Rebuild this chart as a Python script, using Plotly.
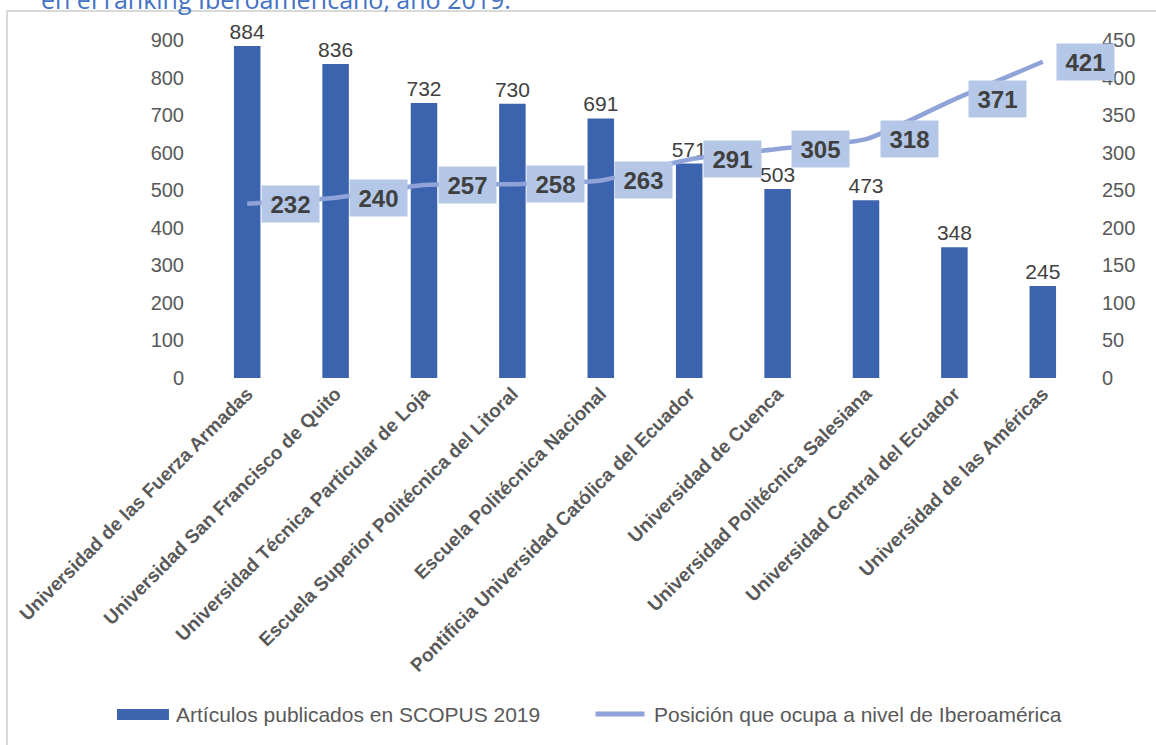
import plotly.graph_objects as go

universidades = [
    "Universidad de las Fuerza Armadas",
    "Universidad San Francisco de Quito",
    "Universidad Técnica Particular de Loja",
    "Escuela Superior Politécnica del Litoral",
    "Escuela Politécnica Nacional",
    "Pontificia Universidad Católica del Ecuador",
    "Universidad de Cuenca",
    "Universidad Politécnica Salesiana",
    "Universidad Central del Ecuador",
    "Universidad de las Américas",
]
articulos = [884, 836, 732, 730, 691, 571, 503, 473, 348, 245]
posicion = [232, 240, 257, 258, 263, 291, 305, 318, 371, 421]

left_ticks = [0, 100, 200, 300, 400, 500, 600, 700, 800, 900]
right_ticks = [0, 50, 100, 150, 200, 250, 300, 350, 400, 450]

serie_barras = "Artículos publicados en SCOPUS 2019"
serie_linea = "Posición que ocupa a nivel de Iberoamérica"
titulo_cortado = "en el ranking Iberoamericano, año 2019."

FONT = "Liberation Sans, Arial, sans-serif"
GREY = "#595959"
DARK = "#404040"
BAR_C = "#3c64ae"
LINE_C = "#8fa3d8"

fig = go.Figure()
fig.add_trace(go.Bar(
    x=universidades, y=articulos, name=serie_barras,
    marker=dict(color=BAR_C, line=dict(width=0)), width=0.3,
    text=[str(v) for v in articulos], textposition="outside", constraintext="none",
    textfont=dict(size=21, color=DARK, family=FONT), cliponaxis=False,
))
fig.add_trace(go.Scatter(
    x=universidades, y=posicion, yaxis="y2", mode="lines", name=serie_linea,
    line=dict(color=LINE_C, width=4.5, shape="spline", smoothing=0.6),
    cliponaxis=False,
))

for u, p in zip(universidades, posicion):
    fig.add_annotation(
        x=u, y=p, yref="y2", text=f"<b>{p}</b>", showarrow=False,
        xshift=43, bgcolor="#b4c7e7", borderpad=5, width=47, height=26,
        font=dict(size=24, color=DARK, family=FONT),
    )

# partially visible caption above the chart frame
fig.add_annotation(
    xref="paper", yref="paper", x=-0.186, y=1.122, xanchor="left", yanchor="middle",
    text=titulo_cortado, showarrow=False,
    font=dict(size=25, color="#4472c4", family="Open Sans, sans-serif"),
)

# chart frame
fig.add_shape(
    type="rect", xref="paper", yref="paper",
    x0=-0.2217, x1=1.1, y0=-1.2, y1=1.0858,
    line=dict(color="#d9d9d9", width=2), fillcolor="rgba(0,0,0,0)", layer="below",
)

# custom legend
fig.add_shape(type="rect", xref="paper", yref="paper",
              x0=-0.0973, x1=-0.0385, y0=-1.0118, y1=-0.9793,
              fillcolor=BAR_C, line=dict(width=0))
fig.add_annotation(xref="paper", yref="paper", x=-0.0328, y=-0.9941,
                   xanchor="left", yanchor="middle", showarrow=False,
                   text=serie_barras, font=dict(size=21, color=GREY, family=FONT))
fig.add_shape(type="line", xref="paper", yref="paper",
              x0=0.4440, x1=0.4995, y0=-0.9941, y1=-0.9941,
              line=dict(color=LINE_C, width=5))
fig.add_annotation(xref="paper", yref="paper", x=0.5079, y=-0.9941,
                   xanchor="left", yanchor="middle", showarrow=False,
                   text=serie_linea, font=dict(size=21, color=GREY, family=FONT))

fig.update_layout(
    width=1156, height=745,
    margin=dict(l=203, r=69, t=40, b=367, autoexpand=False),
    paper_bgcolor="white", plot_bgcolor="white",
    font=dict(family=FONT, color=GREY),
    showlegend=False,
    xaxis=dict(range=[-0.5, len(universidades) - 0.5], tickangle=-45,
               tickfont=dict(size=19, color=GREY, family=FONT),
               showgrid=False, showline=False, ticks="", automargin=False,
               tickprefix="<b>", ticksuffix="</b>"),
    yaxis=dict(range=[0, 900], tickvals=left_ticks, showgrid=False, zeroline=False,
               showline=False, tickfont=dict(size=20, color=GREY, family=FONT),
               ticks="", ticklabelstandoff=18, automargin=False),
    yaxis2=dict(range=[0, 450], tickvals=right_ticks, overlaying="y", side="right",
                showgrid=False, zeroline=False, showline=False,
                tickfont=dict(size=20, color=GREY, family=FONT), ticks="",
                ticklabelstandoff=14, automargin=False),
)

post = (
    "document.body.style.margin='0';"
    "document.body.style.padding='0';"
    "document.body.style.overflow='hidden';"
    "Plotly.relayout('{plot_id}', {width:1156, height:745});"
)
fig.write_html("out.html", config={"responsive": False, "displayModeBar": False},
               post_script=post)
